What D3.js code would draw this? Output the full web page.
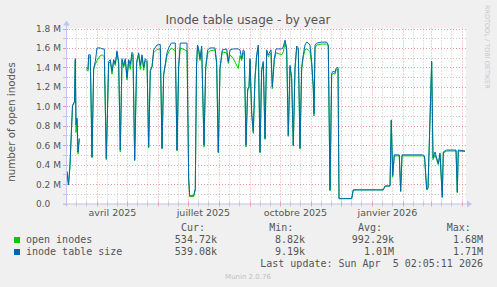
<!DOCTYPE html>
<html>
<head>
<meta charset="utf-8">
<script src="https://cdn.jsdelivr.net/npm/d3@7"></script>
<style>
  body { margin: 0; background: #f0f0f0; }
  svg { display: block; }
  text { font-family: "DejaVu Sans", sans-serif; }
  .mono { font-family: "DejaVu Sans Mono", monospace; white-space: pre; }
</style>
</head>
<body>
<svg id="chart" width="497" height="287"></svg>
<script>
// data (values in millions of inodes)
// day = days since start of the graph (2025-03-01 02:05:11 UTC)
var dayOffsets = [1, 2.5, 4, 6.5, 8.5, 9.3, 10, 11, 12, 13.3, 16,
  20.3, 22, 22.7, 24.3, 26, 27.7, 29.3, 31, 34.3, 36, 38.3, 40.3, 42.7, 44.3, 46, 47.7, 49.3,
  51, 52.7, 54.3, 56, 57.7, 59.3, 61, 62.7, 64.3, 66, 67, 68.7, 70.7, 72.7, 74.3, 76, 77.7, 79.3,
  81, 82.7, 84.3, 86, 87.7, 91, 94.3, 96, 97.7, 101, 102.7, 105.3, 109.3, 111, 112.7, 114.3,
  121, 122.7, 123.7, 127.7, 129.3, 130.5, 131.5, 132.5, 134, 135.7, 138, 139.7, 141.7, 144, 149,
  150.7, 152.3, 154, 156.3, 160.7, 162.3, 164, 167.3, 172.3, 174, 175.7, 177.3, 178.3, 180,
  181.7, 183, 184, 185.7, 187.3, 189, 190.7, 192.3, 194, 195.7, 197.3, 199, 200.7, 202.3, 205,
  206.3, 208.3, 210, 215.7, 217.3, 219, 220.7, 222.3, 224, 225.7, 227.3, 229, 230.7, 232.3, 234,
  235.7, 237.3, 239, 240.7, 242.3, 244, 245.7, 247.3, 248, 249, 250.7, 255.7, 260.7, 262.3, 264,
  265.7, 267, 269, 270, 272, 273, 285.7, 287.3, 317.3, 319, 324, 325.3, 326.7, 328.3, 333.3,
  334.7, 336, 356.7, 358.5, 360.7, 362, 365.7, 367, 369, 372.3, 374, 376.3, 377.3, 380.7, 390,
  391.3, 392.3, 399];

var tableSize = [.33, .19, .40, 1.01, 1.05, 1.49, .81, .88, .53, .67, null,
  1.40, 1.38, 1.53, 1.53, .48, 1.39, 1.46, 1.60, 1.60, 1.59, 1.59, .465, 1.46, 1.48, 1.36, 1.48, 1.44,
  1.57, 1.46, .55, 1.49, 1.42, 1.49, 1.29, 1.48, 1.43, 1.555, 1.54, .45, 1.46, 1.55, 1.42, 1.53, 1.40, 1.49,
  1.47, .585, 1.37, 1.41, 1.58, 1.63, 1.635, .57, 1.33, 1.55, 1.60, 1.65, 1.65, .55, 1.42, 1.65,
  1.65, .26, .08, .08, .15, 1.42, 1.63, 1.60, 1.49, 1.62, .60, 1.40, 1.58, 1.60, 1.60,
  1.45, .53, 1.40, 1.58, 1.59, 1.46, 1.58, 1.59, 1.59, 1.58, 1.49, 1.58, 1.57, .60,
  1.18, 1.20, 1.49, .94, .74, 1.30, 1.53, 1.63, .53, 1.38, 1.46, .67, 1.58, 1.53, 1.58,
  1.20, 1.49, 1.59, 1.59, 1.61, 1.68, 1.60, .70, 1.42, 1.30, .60, 1.40, 1.62, 1.60, .57,
  1.40, 1.53, 1.63, 1.66, 1.65, 1.63, 1.46, 1.20, .92, 1.63, 1.65, 1.66, 1.66, 1.63, .14,
  1.34, 1.36, 1.35, 1.39, 1.40, .05, .05, .14, .14, .18, .18, .86, .29, .50, .50,
  .13, .50, .50, .49, .15, .16, 1.465, .47, .53, .41, .52, .07, .53, .55, .55,
  .12, .55, .54];

var openInodes = [.33, .19, .39, 1.00, 1.04, 1.47, .73, .86, .51, .66, null,
  1.38, 1.36, 1.50, 1.51, .47, 1.38, 1.43, 1.47, 1.52, 1.53, 1.51, .45, 1.44, 1.46, 1.33, 1.46, 1.42,
  1.55, 1.44, .53, 1.47, 1.40, 1.47, 1.27, 1.46, 1.38, 1.53, 1.52, .44, 1.44, 1.53, 1.38, 1.51, 1.37, 1.47,
  1.45, .57, 1.36, 1.40, 1.55, 1.585, 1.59, .56, 1.32, 1.52, 1.56, 1.60, 1.57, .54, 1.40, 1.60,
  1.57, .25, .07, .07, .14, 1.40, 1.61, 1.58, 1.47, 1.60, .58, 1.38, 1.55, 1.57, 1.58,
  1.43, .52, 1.38, 1.56, 1.55, 1.44, 1.53, 1.49, 1.39, 1.52, 1.47, 1.55, 1.55, .58,
  1.16, 1.19, 1.47, .92, .72, 1.28, 1.51, 1.60, .52, 1.36, 1.44, .66, 1.55, 1.51, 1.55,
  1.18, 1.47, 1.55, 1.53, 1.56, 1.65, 1.57, .69, 1.40, 1.28, .59, 1.38, 1.60, 1.58, .56,
  1.38, 1.51, 1.58, 1.59, 1.58, 1.56, 1.43, 1.18, .90, 1.60, 1.63, 1.64, 1.64, 1.62, .13,
  1.32, 1.34, 1.33, 1.37, 1.38, .05, .05, .14, .14, .18, .18, .85, .27, .49, .49,
  .12, .49, .49, .48, .14, .15, 1.45, .45, .50, .40, .50, .06, .52, .54, .54,
  .11, .54, .535];

var yTicks = [0, 0.2, 0.4, 0.6, 0.8, 1.0, 1.2, 1.4, 1.6, 1.8];
var yMinorTicks = [0.1, 0.3, 0.5, 0.7, 0.9, 1.1, 1.3, 1.5, 1.7];

var seriesNames = ["open inodes", "inode table size"];
var seriesColors = ["#00cc00", "#0066b3"];
var legendCur = ["534.72k", "539.08k"];
var legendMin = ["8.82k", "9.19k"];
var legendAvg = ["992.29k", "1.01M"];
var legendMax = ["1.68M", "1.71M"];

var startTime = new Date(Date.UTC(2025, 2, 1, 2, 5, 11));
var endTime = new Date(Date.UTC(2026, 3, 5, 2, 5, 11));

var svg = d3.select("#chart");

// plot box (window.top is taken, so no bare "top")
var pLeft = 66, pRight = 466, pTop = 28.5, pBottom = 203.5;

var x = d3.scaleUtc().domain([startTime, endTime]).range([pLeft, pRight]);
var y = d3.scaleLinear().domain([0, 1.8]).range([pBottom, pTop]);

var fr = d3.timeFormatLocale({
  dateTime: "%A %e %B %Y à %X", date: "%d/%m/%Y", time: "%H:%M:%S",
  periods: ["AM", "PM"],
  days: ["dimanche", "lundi", "mardi", "mercredi", "jeudi", "vendredi", "samedi"],
  shortDays: ["dim.", "lun.", "mar.", "mer.", "jeu.", "ven.", "sam."],
  months: ["janvier", "février", "mars", "avril", "mai", "juin", "juillet", "août", "septembre", "octobre", "novembre", "décembre"],
  shortMonths: ["janv.", "févr.", "mars", "avr.", "mai", "juin", "juil.", "août", "sept.", "oct.", "nov.", "déc."]
});
var monthLabel = fr.utcFormat("%B %Y");

// canvas
svg.append("rect")
  .attr("x", pLeft).attr("y", pTop)
  .attr("width", pRight - pLeft).attr("height", pBottom - pTop)
  .attr("fill", "#fff");

// grid
var months = d3.utcMonth.range(startTime, endTime);
var minorDays = [];
d3.utcMonth.range(d3.utcMonth.floor(startTime), endTime).forEach(function (m) {
  [10, 20].forEach(function (d) {
    var t = d3.utcDay.offset(m, d);
    if (t > startTime && t < endTime) minorDays.push(t);
  });
});
function px(v) { return Math.round(v) + 0.5; }

var grid = svg.append("g");
grid.selectAll("line.vminor").data(minorDays).enter().append("line")
  .attr("x1", function (d) { return px(x(d)); })
  .attr("x2", function (d) { return px(x(d)); })
  .attr("y1", pTop).attr("y2", pBottom)
  .attr("stroke", "#c8c8c8").attr("stroke-dasharray", "1,2");
grid.selectAll("line.hminor").data(yMinorTicks).enter().append("line")
  .attr("x1", pLeft).attr("x2", pRight)
  .attr("y1", function (d) { return px(y(d)); })
  .attr("y2", function (d) { return px(y(d)); })
  .attr("stroke", "#c8c8c8").attr("stroke-dasharray", "1,2");
grid.selectAll("line.vmajor").data(months).enter().append("line")
  .attr("x1", function (d) { return px(x(d)); })
  .attr("x2", function (d) { return px(x(d)); })
  .attr("y1", pTop).attr("y2", pBottom)
  .attr("stroke", "#f09c9c").attr("stroke-dasharray", "1,2");
grid.selectAll("line.hmajor").data(yTicks.slice(1)).enter().append("line")
  .attr("x1", pLeft).attr("x2", pRight)
  .attr("y1", function (d) { return px(y(d)); })
  .attr("y2", function (d) { return px(y(d)); })
  .attr("stroke", "#f09c9c").attr("stroke-dasharray", "1,2");

// small ticks on the axes
grid.selectAll("line.xtick").data(minorDays.concat(months)).enter().append("line")
  .attr("x1", function (d) { return px(x(d)); })
  .attr("x2", function (d) { return px(x(d)); })
  .attr("y1", pBottom - 2).attr("y2", pBottom + 3)
  .attr("stroke", function (d, i) { return i < minorDays.length ? "#c8c8c8" : "#f09c9c"; });
grid.selectAll("line.ytick").data(yMinorTicks.concat(yTicks)).enter().append("line")
  .attr("x1", pLeft - 3).attr("x2", pLeft + 2)
  .attr("y1", function (d) { return px(y(d)); })
  .attr("y2", function (d) { return px(y(d)); })
  .attr("stroke", function (d, i) { return i < yMinorTicks.length ? "#c8c8c8" : "#f09c9c"; });

// series
var line = d3.line()
  .defined(function (d) { return d[1] != null; })
  .x(function (d) { return x(d3.utcHour.offset(startTime, d[0] * 24)); })
  .y(function (d) { return y(d[1]); });

[openInodes, tableSize].forEach(function (vals, k) {
  svg.append("path")
    .datum(dayOffsets.map(function (d, i) { return [d, vals[i]]; }))
    .attr("fill", "none")
    .attr("stroke", seriesColors[k])
    .attr("stroke-width", 1)
    .attr("d", line);
});

// axes with arrows
var axisColor = "#c4c4ee";
svg.append("line").attr("x1", pLeft - 3).attr("x2", pRight + 2)
  .attr("y1", pBottom + 0.5).attr("y2", pBottom + 0.5).attr("stroke", axisColor);
svg.append("line").attr("x1", pLeft + 0.5).attr("x2", pLeft + 0.5)
  .attr("y1", pBottom + 3).attr("y2", pTop - 4).attr("stroke", axisColor);
svg.append("path").attr("d", "M" + (pRight + 1) + "," + (pBottom - 3) + "L" + (pRight + 6) + "," + (pBottom + 0.5) + "L" + (pRight + 1) + "," + (pBottom + 4) + "Z")
  .attr("fill", axisColor);
svg.append("path").attr("d", "M" + (pLeft - 3) + "," + (pTop - 3) + "L" + (pLeft + 0.5) + "," + (pTop - 8) + "L" + (pLeft + 4) + "," + (pTop - 3) + "Z")
  .attr("fill", axisColor);

// y labels
var yl = svg.selectAll("text.ylab").data(yTicks).enter().append("text")
  .attr("x", 61).attr("y", function (d) { return y(d) + 3.5; })
  .attr("text-anchor", "end").attr("font-size", 9).attr("fill", "#555");
yl.append("tspan").text(function (d) { return d.toFixed(1); });
yl.append("tspan").text(" M").attr("fill-opacity", function (d) { return d === 0 ? 0 : 1; });

// x labels, one every three months, centred on the middle of the month
var labelMonths = d3.utcMonth.every(3).range(startTime, endTime).filter(function (d) {
  return x(d3.utcHour.offset(d, 15.5 * 24)) < pRight;
});
svg.selectAll("text.xlab").data(labelMonths).enter().append("text")
  .attr("x", function (d) { return x(d3.utcHour.offset(d, 15.5 * 24)); })
  .attr("y", 216)
  .attr("text-anchor", "middle").attr("font-size", 9.5).attr("fill", "#555")
  .text(function (d) { return monthLabel(d); });

// title and side texts
svg.append("text").attr("x", 248).attr("y", 24).attr("text-anchor", "middle")
  .attr("font-size", 12).attr("fill", "#555").text("Inode table usage - by year");
svg.append("text").attr("transform", "translate(15,122) rotate(-90)")
  .attr("text-anchor", "middle").attr("font-size", 10.3).attr("fill", "#555")
  .text("number of open inodes");
svg.append("text").attr("transform", "translate(485,5) rotate(90)")
  .attr("font-size", 6.5).attr("fill", "#c8c8c8")
  .text("RRDTOOL / TOBI OETIKER");

// legend
var leg = svg.append("g").attr("font-size", 10).attr("fill", "#555");
[["Cur:", 181], ["Min:", 269.3], ["Avg:", 358], ["Max:", 446.7]].forEach(function (h) {
  leg.append("text").attr("class", "mono").attr("x", h[1]).attr("y", 230.5).text(h[0]);
});
seriesNames.forEach(function (name, i) {
  var yy = 243 + i * 12;
  leg.append("rect").attr("x", 14).attr("y", yy - 6).attr("width", 6).attr("height", 6)
    .attr("fill", seriesColors[i]);
  leg.append("text").attr("class", "mono").attr("x", 26).attr("y", yy).text(name);
  [[legendCur, 217], [legendMin, 305], [legendAvg, 394], [legendMax, 483]].forEach(function (c) {
    leg.append("text").attr("class", "mono").attr("x", c[1]).attr("y", yy)
      .attr("text-anchor", "end").text(c[0][i]);
  });
});
leg.append("text").attr("class", "mono").attr("x", 483).attr("y", 266.5)
  .attr("text-anchor", "end").text("Last update: Sun Apr  5 02:05:11 2026");
svg.append("text").attr("x", 248).attr("y", 279).attr("text-anchor", "middle")
  .attr("font-size", 7).attr("fill", "#c0c0c0").text("Munin 2.0.76");
</script>
</body>
</html>
